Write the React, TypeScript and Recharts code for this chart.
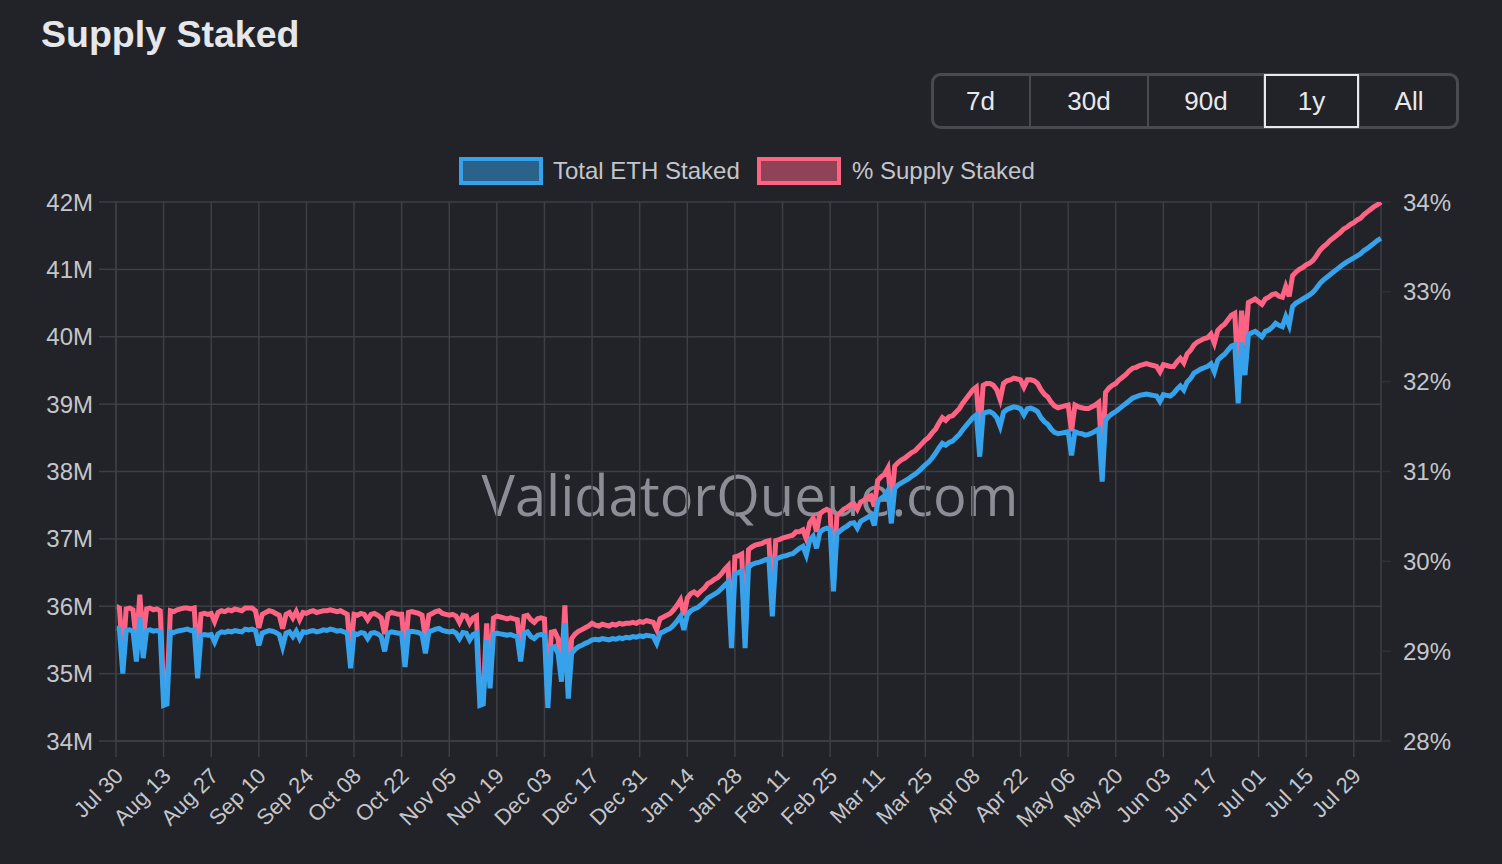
import React from "react";
import { LineChart, Line, XAxis, YAxis, CartesianGrid } from "recharts";

// ---------- data ----------
const START_UTC = Date.UTC(2024, 6, 30); // first day shown: Jul 30
const MONTHS = ["Jan", "Feb", "Mar", "Apr", "May", "Jun", "Jul", "Aug", "Sep", "Oct", "Nov", "Dec"];

// Total ETH staked, millions (one value per day)
const TOTAL_ETH_STAKED_M = [
  35.68, 35.66, 35.0, 35.64, 35.65, 35.63, 35.18, 35.84, 35.23, 35.64,
  35.65, 35.63, 35.64, 35.62, 34.53, 34.55, 35.62, 35.61, 35.63, 35.64,
  35.65, 35.66, 35.64, 35.65, 34.93, 35.57, 35.58, 35.57, 35.58, 35.47,
  35.59, 35.62, 35.61, 35.63, 35.62, 35.64, 35.63, 35.62, 35.66, 35.65,
  35.66, 35.64, 35.42, 35.6, 35.62, 35.64, 35.63, 35.61, 35.58, 35.4,
  35.6, 35.62, 35.55, 35.63, 35.52, 35.62, 35.61, 35.63, 35.64, 35.62,
  35.63, 35.65, 35.64, 35.66, 35.65, 35.63, 35.64, 35.62, 35.6, 35.08,
  35.6, 35.58, 35.61, 35.6, 35.52, 35.6, 35.61, 35.59, 35.55, 35.33,
  35.6, 35.62, 35.61, 35.6, 35.6, 35.1, 35.62, 35.63, 35.62, 35.61,
  35.58, 35.3, 35.62, 35.64, 35.66, 35.67, 35.64, 35.63, 35.62, 35.63,
  35.6, 35.52, 35.61, 35.6, 35.5, 35.58, 35.6, 34.53, 34.55, 35.5,
  34.78, 35.58, 35.6, 35.59, 35.58, 35.57, 35.58, 35.56, 35.55, 35.18,
  35.6, 35.62, 35.55, 35.52, 35.57, 35.58, 35.57, 34.49, 35.38, 35.4,
  35.3, 34.88, 35.75, 34.63, 35.3, 35.36, 35.4, 35.42, 35.45, 35.47,
  35.5, 35.51, 35.5, 35.52, 35.51, 35.5, 35.52, 35.51, 35.53, 35.52,
  35.54, 35.53, 35.55, 35.54, 35.56, 35.55, 35.57, 35.56, 35.55, 35.45,
  35.6, 35.62, 35.65, 35.67, 35.72, 35.78, 35.85, 35.65, 35.87, 35.93,
  35.96, 35.98, 36.02, 36.06, 36.12, 36.15, 36.18, 36.21, 36.26, 36.31,
  36.36, 35.38, 36.48, 36.5, 36.52, 35.38, 36.58, 36.62, 36.64, 36.65,
  36.67, 36.69, 36.7, 35.85, 36.7, 36.72, 36.74, 36.75, 36.77, 36.78,
  36.82, 36.86, 36.89, 36.76, 36.98, 37.04, 36.86, 37.1, 37.14, 37.16,
  37.14, 36.22, 37.08, 37.12, 37.16, 37.19, 37.23, 37.24, 37.16, 37.26,
  37.29, 37.32, 37.35, 37.2, 37.55, 37.6, 37.64, 37.72, 37.23, 37.75,
  37.8, 37.83, 37.86, 37.89, 37.93, 37.96, 38.0, 38.05, 38.1, 38.14,
  38.2, 38.27, 38.35, 38.42, 38.39, 38.43, 38.45, 38.5, 38.55, 38.62,
  38.68, 38.74, 38.8, 38.84, 38.22, 38.86, 38.88, 38.89, 38.86, 38.8,
  38.67, 38.88, 38.92, 38.94, 38.96, 38.95, 38.93, 38.84, 38.93, 38.94,
  38.92, 38.89, 38.8, 38.74, 38.7, 38.63, 38.58, 38.56, 38.57, 38.58,
  38.59, 38.24, 38.59, 38.57, 38.56, 38.54, 38.55, 38.57, 38.6, 38.63,
  37.85, 38.76, 38.82, 38.86, 38.89, 38.93, 38.97, 39.01, 39.05, 39.09,
  39.11, 39.13, 39.14, 39.15, 39.14, 39.13, 39.12, 39.04, 39.14, 39.13,
  39.12, 39.16, 39.22, 39.27, 39.21, 39.33, 39.38, 39.46, 39.49, 39.52,
  39.54, 39.56, 39.6, 39.48, 39.65, 39.7, 39.74, 39.8, 39.86, 39.88,
  39.01, 39.92, 39.43, 40.03, 40.06, 40.08, 40.04, 40.0, 40.08, 40.1,
  40.14, 40.2, 40.17, 40.15, 40.3, 40.17, 40.45, 40.5, 40.53, 40.56,
  40.59, 40.62, 40.66, 40.72, 40.79, 40.84, 40.88, 40.92, 40.96, 41.0,
  41.04, 41.08, 41.11, 41.14, 41.17, 41.2, 41.23, 41.28, 41.31, 41.35,
  41.39, 41.43, 41.46,
];

// % of supply staked (one value per day)
const PCT_SUPPLY_STAKED = [
  29.5, 29.48, 28.94, 29.47, 29.48, 29.46, 29.09, 29.63, 29.13, 29.47,
  29.48, 29.46, 29.47, 29.45, 28.55, 28.57, 29.45, 29.44, 29.46, 29.47,
  29.48, 29.48, 29.47, 29.48, 28.88, 29.41, 29.42, 29.41, 29.42, 29.33,
  29.43, 29.45, 29.44, 29.46, 29.45, 29.47, 29.46, 29.45, 29.48, 29.48,
  29.48, 29.45, 29.26, 29.41, 29.43, 29.45, 29.44, 29.42, 29.4, 29.25,
  29.41, 29.43, 29.37, 29.44, 29.35, 29.43, 29.42, 29.44, 29.45, 29.43,
  29.44, 29.45, 29.45, 29.46, 29.45, 29.44, 29.45, 29.43, 29.41, 28.98,
  29.41, 29.4, 29.42, 29.41, 29.35, 29.41, 29.42, 29.4, 29.37, 29.19,
  29.41, 29.43, 29.42, 29.41, 29.41, 29.0, 29.43, 29.44, 29.43, 29.42,
  29.4, 29.14, 29.4, 29.42, 29.44, 29.45, 29.42, 29.41, 29.4, 29.41,
  29.39, 29.32, 29.4, 29.39, 29.31, 29.37, 29.39, 28.5, 28.52, 29.31,
  28.71, 29.37, 29.39, 29.38, 29.37, 29.36, 29.37, 29.36, 29.35, 29.04,
  29.39, 29.4, 29.35, 29.32, 29.36, 29.37, 29.36, 28.47, 29.21, 29.22,
  29.14, 28.79, 29.51, 28.59, 29.14, 29.19, 29.22, 29.24, 29.26, 29.28,
  29.31, 29.29, 29.28, 29.3, 29.29, 29.28, 29.3, 29.29, 29.31, 29.3,
  29.31, 29.31, 29.32, 29.31, 29.33, 29.32, 29.34, 29.33, 29.32, 29.24,
  29.36, 29.38, 29.4, 29.42, 29.46, 29.51, 29.57, 29.4, 29.59, 29.64,
  29.66, 29.63, 29.67, 29.7, 29.75, 29.77, 29.8, 29.82, 29.86, 29.91,
  29.95, 29.14, 30.05, 30.06, 30.08, 29.14, 30.13, 30.16, 30.18, 30.19,
  30.2, 30.22, 30.23, 29.53, 30.23, 30.24, 30.26, 30.27, 30.28, 30.29,
  30.33, 30.33, 30.35, 30.25, 30.43, 30.48, 30.33, 30.53, 30.56, 30.58,
  30.56, 29.8, 30.51, 30.54, 30.58, 30.6, 30.63, 30.64, 30.58, 30.66,
  30.68, 30.71, 30.73, 30.61, 30.9, 30.94, 30.97, 31.04, 30.63, 31.06,
  31.1, 31.13, 31.15, 31.18, 31.21, 31.23, 31.27, 31.31, 31.35, 31.38,
  31.43, 31.47, 31.54, 31.6, 31.57, 31.61, 31.62, 31.66, 31.7, 31.76,
  31.81, 31.86, 31.91, 31.94, 31.43, 31.96, 31.98, 31.98, 31.96, 31.91,
  31.8, 31.98, 32.01, 32.02, 32.04, 32.03, 32.02, 31.94, 32.02, 32.02,
  32.01, 31.98, 31.91, 31.86, 31.83, 31.77, 31.73, 31.71, 31.72, 31.73,
  31.74, 31.45, 31.74, 31.72, 31.71, 31.7, 31.7, 31.72, 31.74, 31.77,
  31.13, 31.88, 31.93, 31.96, 31.98, 32.02, 32.05, 32.08, 32.12, 32.15,
  32.16, 32.18, 32.19, 32.2, 32.19, 32.18, 32.17, 32.11, 32.19, 32.18,
  32.17, 32.17, 32.22, 32.26, 32.21, 32.31, 32.35, 32.41, 32.44, 32.46,
  32.48, 32.49, 32.53, 32.43, 32.57, 32.61, 32.64, 32.69, 32.74, 32.76,
  32.04, 32.79, 32.39, 32.88, 32.9, 32.92, 32.89, 32.86, 32.92, 32.94,
  32.97, 32.98, 32.95, 32.94, 33.06, 32.95, 33.18, 33.22, 33.25, 33.27,
  33.3, 33.32, 33.35, 33.4, 33.46, 33.5, 33.53, 33.57, 33.6, 33.63,
  33.66, 33.7, 33.72, 33.75, 33.77, 33.8, 33.82, 33.86, 33.89, 33.92,
  33.95, 33.97, 34.0,
];

const LEFT_TICKS = [34, 35, 36, 37, 38, 39, 40, 41, 42];
const RIGHT_TICKS = [28, 29, 30, 31, 32, 33, 34];
const X_TICK_DAYS = [
  0, 14, 28, 42, 56, 70, 84, 98, 112, 126, 140, 154, 168, 182, 196, 210, 224,
  238, 252, 266, 280, 294, 308, 322, 336, 350, 364,
];
const RANGE_BUTTONS = ["7d", "30d", "90d", "1y", "All"];
const SELECTED_RANGE = "1y";
const SERIES_NAMES = ["Total ETH Staked", "% Supply Staked"];

// ---------- style ----------
const FONT = '"Liberation Sans", Arial, Helvetica, sans-serif';
const BG = "#212328";
const GRID = "#3d3f46";
const TICK_COLOR = "#c4c6cb";
const TITLE_COLOR = "#e6e7ea";
const BLUE = "#36a2eb";
const PINK = "#ff6384";
const BTN_EDGES = [931, 1030, 1148, 1264, 1359, 1459];

function dayLabel(i: number): string {
  const d = new Date(START_UTC + i * 86400000);
  return `${MONTHS[d.getUTCMonth()]} ${String(d.getUTCDate()).padStart(2, "0")}`;
}

const data = TOTAL_ETH_STAKED_M.map((v, i) => ({
  day: i,
  staked: v,
  pct: PCT_SUPPLY_STAKED[i],
}));

const XTick = (props: any) => {
  const { x, y, payload } = props;
  return (
    <g transform={`translate(${x + 3},${y + 15})`}>
      <text
        textAnchor="end"
        transform="rotate(-45)"
        dy="0.35em"
        fill={TICK_COLOR}
        fontSize={22}
        fontFamily={FONT}
      >
        {dayLabel(payload.value)}
      </text>
    </g>
  );
};

export default function App() {
  return (
    <div
      style={{
        position: "absolute",
        left: 0,
        top: 0,
        width: 1502,
        height: 864,
        overflow: "hidden",
        background: BG,
        fontFamily: FONT,
      }}
    >
      <svg width={1502} height={864} style={{ position: "absolute", left: 0, top: 0 }}>
        <rect x={0} y={0} width={1502} height={864} fill={BG} />
        <text x={41} y={47} fontSize={37.5} fontWeight={700} fill={TITLE_COLOR} fontFamily={FONT}>
          Supply Staked
        </text>

        {/* range buttons */}
        <rect
          x={BTN_EDGES[0] + 1.5}
          y={74.5}
          width={BTN_EDGES[5] - BTN_EDGES[0] - 3}
          height={53}
          rx={8}
          fill={BG}
          stroke="#474a51"
          strokeWidth={3}
        />
        {BTN_EDGES.slice(1, 5).map((ex, k) => (
          <line key={k} x1={ex} x2={ex} y1={76} y2={126} stroke="#474a51" strokeWidth={2} />
        ))}
        {RANGE_BUTTONS.map((b, k) => {
          const x0 = BTN_EDGES[k];
          const x1 = BTN_EDGES[k + 1];
          const sel = b === SELECTED_RANGE;
          return (
            <g key={b}>
              {sel && (
                <rect
                  x={x0 + 1}
                  y={75}
                  width={x1 - x0 - 2}
                  height={52}
                  fill={BG}
                  stroke="#e8e9ec"
                  strokeWidth={2}
                />
              )}
              <text
                x={(x0 + x1) / 2}
                y={110}
                textAnchor="middle"
                fontSize={26}
                fill="#e8e9ec"
                fontFamily={FONT}
              >
                {b}
              </text>
            </g>
          );
        })}

        {/* legend */}
        <rect x={461} y={159} width={80} height={24} fill="rgba(54,162,235,0.5)" stroke={BLUE} strokeWidth={4} />
        <text x={553} y={179} fontSize={24} fill={TICK_COLOR} fontFamily={FONT}>
          {SERIES_NAMES[0]}
        </text>
        <rect x={759} y={159} width={80} height={24} fill="rgba(255,99,132,0.5)" stroke={PINK} strokeWidth={4} />
        <text x={852} y={179} fontSize={24} fill={TICK_COLOR} fontFamily={FONT}>
          {SERIES_NAMES[1]}
        </text>

        {/* watermark */}
        <text
          x={750}
          y={516}
          textAnchor="middle"
          fontSize={56}
          fill="#8b8e96"
          fontFamily='"Open Sans", "Noto Sans", sans-serif'
        >
          ValidatorQueue.com
        </text>
      </svg>

      <div style={{ position: "absolute", left: 0, top: 0 }}>
        <LineChart
          width={1502}
          height={864}
          data={data}
          margin={{ top: 202, right: 0, bottom: 0, left: 0 }}
        >
          <CartesianGrid yAxisId="left" stroke={GRID} strokeWidth={1.5} />
          <XAxis
            dataKey="day"
            type="category"
            ticks={X_TICK_DAYS}
            interval={0}
            height={123}
            tickSize={16}
            tickMargin={0}
            tickLine={{ stroke: GRID, strokeWidth: 1.5 }}
            axisLine={{ stroke: GRID, strokeWidth: 1.5 }}
            tick={<XTick />}
          />
          <YAxis
            yAxisId="left"
            orientation="left"
            width={116}
            domain={[34, 42]}
            ticks={LEFT_TICKS}
            allowDataOverflow
            tickSize={17}
            tickMargin={6}
            tickLine={{ stroke: GRID, strokeWidth: 1.5 }}
            axisLine={{ stroke: GRID, strokeWidth: 1.5 }}
            tick={{ fill: TICK_COLOR, fontSize: 24, fontFamily: FONT }}
            tickFormatter={(v: number) => `${v}M`}
          />
          <YAxis
            yAxisId="right"
            orientation="right"
            width={121}
            domain={[28, 34]}
            ticks={RIGHT_TICKS}
            allowDataOverflow
            tickSize={10}
            tickMargin={12}
            tickLine={{ stroke: "#2e3037", strokeWidth: 1.5 }}
            axisLine={false}
            tick={{ fill: TICK_COLOR, fontSize: 24, fontFamily: FONT }}
            tickFormatter={(v: number) => `${v}%`}
          />
          <Line
            yAxisId="right"
            type="linear"
            dataKey="pct"
            stroke={PINK}
            strokeWidth={5}
            dot={false}
            activeDot={false}
            isAnimationActive={false}
          />
          <Line
            yAxisId="left"
            type="linear"
            dataKey="staked"
            stroke={BLUE}
            strokeWidth={5}
            dot={false}
            activeDot={false}
            isAnimationActive={false}
          />
        </LineChart>
      </div>
    </div>
  );
}
